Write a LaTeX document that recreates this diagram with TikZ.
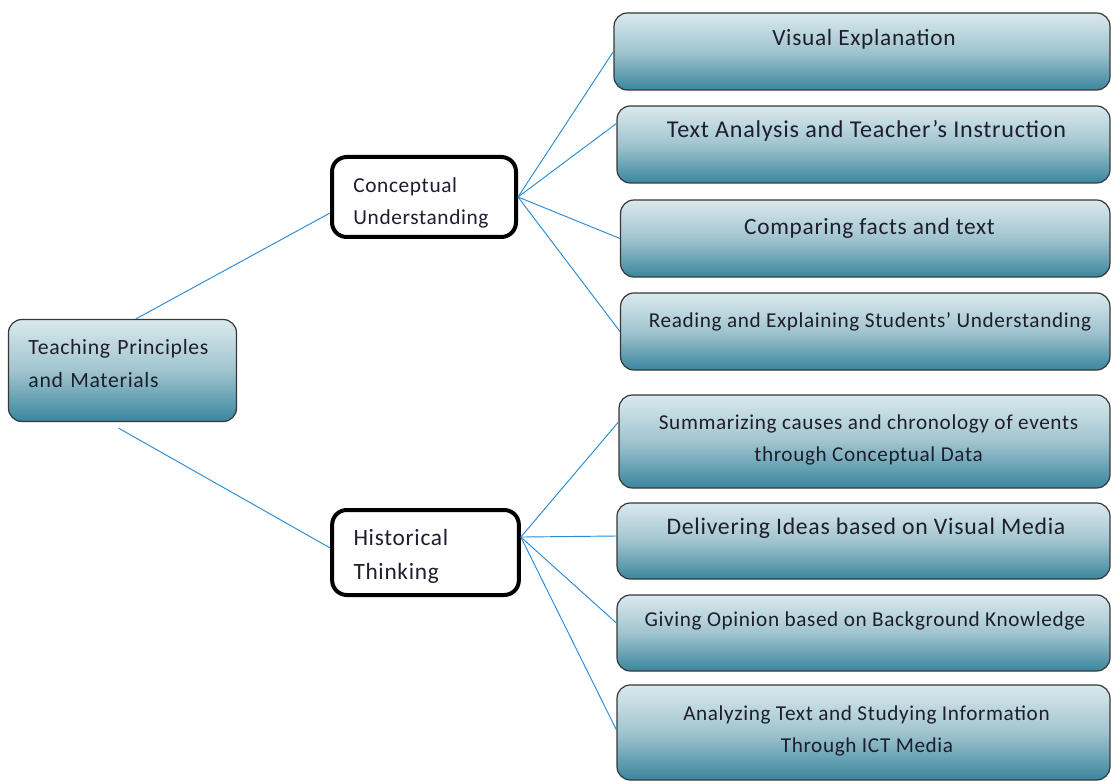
\documentclass[tikz,border=0pt]{standalone}
\usepackage{fontspec}
\setmainfont{Carlito}[LetterSpace=3]
\usepackage{tikz}
\definecolor{boxtop}{RGB}{218,233,237}
\definecolor{boxmid}{RGB}{160,196,207}
\definecolor{boxbot}{RGB}{58,134,158}
\definecolor{boxline}{RGB}{55,55,55}
\definecolor{linkblue}{RGB}{38,138,214}
\definecolor{inkdark}{RGB}{30,30,45}

\begin{document}
\begin{tikzpicture}[x=0.75pt,y=-0.75pt,
  leaf/.style={draw=boxline,line width=0.9pt,rounded corners=10pt,top color=boxtop,bottom color=boxbot,middle color=boxmid,inner sep=0pt},
  hub/.style={draw=black,line width=3pt,rounded corners=11pt,fill=white,align=left,inner xsep=16pt,inner ysep=0pt,text=inkdark},
  tag/.style={anchor=base,inner sep=0pt,text=inkdark},
  big/.style={font=\fontsize{17.5}{21}\selectfont},
  small/.style={font=\fontsize{15.9}{19}\selectfont},
  link/.style={draw=linkblue,line width=0.7pt}]
\useasboundingbox (0,0) rectangle (1111,781);

\node[leaf,align=left,text width=141pt,inner xsep=15pt,minimum height=76.5pt,text height=10pt,text depth=34.75pt,text=inkdark,font=\fontsize{16.3}{24.75}\selectfont] (tp) at (122.5,370.5) {Teaching Principles\\and Materials};
\node[hub,text width=106pt,minimum height=60pt,text height=10pt,text depth=16pt,font=\fontsize{16}{24}\selectfont] (cu) at (424,197) {Conceptual\\Understanding};
\node[hub,text width=108pt,minimum height=63.75pt,text height=10pt,text depth=21.25pt,font=\fontsize{17.5}{26}\selectfont] (hi) at (425.5,552.5) {Historical\\Thinking};

\node[leaf,minimum width=372pt,minimum height=57.75pt] (ve) at (862,51.5) {};
\node[leaf,minimum width=369.75pt,minimum height=57.75pt] (ta) at (863.5,144.5) {};
\node[leaf,minimum width=367pt,minimum height=57.75pt] (cf) at (865.25,238.5) {};
\node[leaf,minimum width=367pt,minimum height=57.75pt] (rs) at (865.25,331.5) {};
\node[leaf,minimum width=368.25pt,minimum height=69.75pt] (sc) at (864.5,441.5) {};
\node[leaf,minimum width=369.75pt,minimum height=57pt] (dv) at (863.5,541) {};
\node[leaf,minimum width=369.75pt,minimum height=57pt] (go) at (863.5,633) {};
\node[leaf,minimum width=369.75pt,minimum height=71.25pt] (an) at (863.5,732.5) {};

\node[tag,big] (veT) at (864,46) {Visual Explanation};
\node[tag,font=\fontsize{18.1}{21}\selectfont] (taT) at (866.5,138) {Text Analysis and Teacher’s Instruction};
\node[tag,big] (cfT) at (869.5,235) {Comparing facts and text};
\node[tag,small] (rsT) at (870,327) {Reading and Explaining Students’ Understanding};
\node[tag,small] (scT) at (868.5,429) {Summarizing causes and chronology of events};
\node[tag,small] (scT2) at (868.5,461) {through Conceptual Data};
\node[tag,font=\fontsize{17.8}{21}\selectfont] (dvT) at (866,534) {Delivering Ideas based on Visual Media};
\node[tag,small] (goT) at (865,626) {Giving Opinion based on Background Knowledge};
\node[tag,small] (anT) at (866.5,720) {Analyzing Text and Studying Information};
\node[tag,small] (anT2) at (867,752) {Through ICT Media};

\draw[link] ([xshift=10pt]tp.north) -- ([yshift=-12pt]cu.west);
\draw[link] ([xshift=-3pt,yshift=-4.5pt]tp.south) -- ([yshift=3.4pt]hi.west);
\foreach \n/\dy in {ve/0pt,ta/15.75pt,cf/0pt,rs/0pt}
  \draw[link] (cu.east) -- ([yshift=\dy]\n.west);
\foreach \n/\dy in {sc/14.6pt,dv/3.75pt,go/7.5pt,an/2pt}
  \draw[link] ([yshift=11.6pt]hi.east) -- ([yshift=\dy]\n.west);
\end{tikzpicture}
\end{document}
